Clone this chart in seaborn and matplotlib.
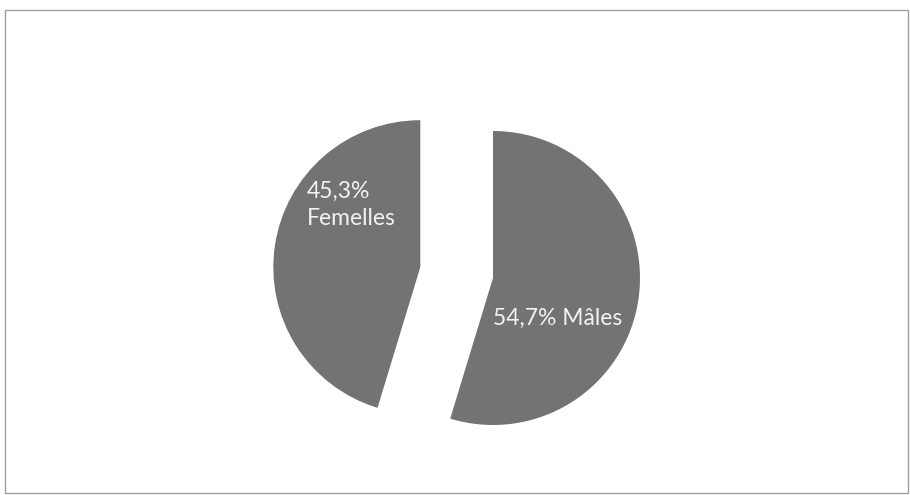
import matplotlib
matplotlib.use("Agg")
import matplotlib.pyplot as plt
import seaborn as sns
from matplotlib.patches import Rectangle

# Data
categories = ["Mâles", "Femelles"]
values = [54.7, 45.3]
labels = ["54,7% Mâles", "45,3%\nFemelles"]
explode = [0.0, 0.5]

sns.set_theme(style="white")
plt.rcParams["font.family"] = ["Lato", "DejaVu Sans"]

W, H = 910, 495
fig = plt.figure(figsize=(W / 100, H / 100), dpi=100)
fig.patch.set_facecolor("white")

# page border
fig.add_artist(Rectangle((5 / W, 2 / H), 903 / W, (H - 12) / H, transform=fig.transFigure,
                         fill=False, edgecolor="#a0a0a0", linewidth=1.0))

ax = fig.add_axes([0, 0, 1, 1])
R = 147.0          # pie radius in pixels
cx, cy = 493, 278  # centre in pixels (from top)
wedge_color = "#737373"
wedges, _ = ax.pie(values, startangle=90, counterclock=False, explode=explode,
                   colors=[wedge_color, wedge_color], radius=1.0,
                   wedgeprops=dict(linewidth=0))
ax.set_aspect("auto")
ax.set_xlim(-cx / R, (W - cx) / R)
ax.set_ylim(-(H - cy) / R, cy / R)
ax.axis("off")

# label positions (pixels from the top-left corner)
pos = [(558, 318), (307, 205)]
has = ["center", "left"]
for lab, (px, py), ha in zip(labels, pos, has):
    ax.text((px - cx) / R, (cy - py) / R, lab, ha=ha, va="center",
            color="#f2f2f2", fontsize=16.5, linespacing=1.35)

fig.savefig("out.png", dpi=100, facecolor="white")
